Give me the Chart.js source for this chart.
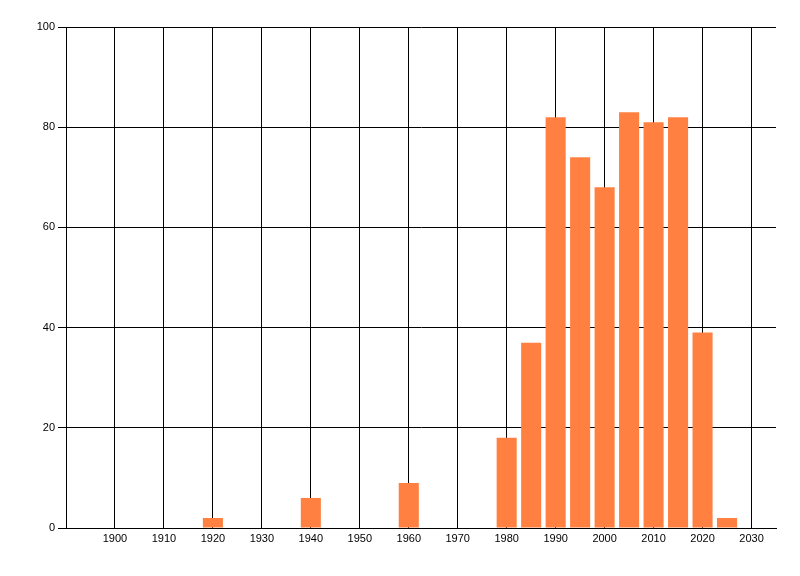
<!DOCTYPE html>
<html>
<head>
<meta charset="utf-8">
<script src="https://cdn.jsdelivr.net/npm/chart.js@4"></script>
<style>
  html, body { margin: 0; padding: 0; background: #fff; }
  canvas { display: block; }
</style>
</head>
<body>
<canvas id="chart" width="800" height="576"></canvas>
<script>
// values
const years = [1920, 1940, 1960, 1980, 1985, 1990, 1995, 2000, 2005, 2010, 2015, 2020, 2025];
const counts = [2, 6, 9, 18, 37, 82, 74, 68, 83, 81, 82, 39, 2];
const xTicks = [1900, 1910, 1920, 1930, 1940, 1950, 1960, 1970, 1980, 1990, 2000, 2010, 2020, 2030];
const yTicks = [0, 20, 40, 60, 80, 100];

const barColor = 'rgb(255,128,64)';
const tickFont = { family: 'Liberation Sans', size: 11 };

const points = years.map((y, i) => ({ x: y, y: counts[i] }));

const ctx = document.getElementById('chart').getContext('2d');

new Chart(ctx, {
  type: 'bar',
  data: {
    datasets: [{
      data: points,
      backgroundColor: barColor,
      borderWidth: 0,
      barPercentage: 0.82,
      categoryPercentage: 1,
    }],
  },
  options: {
    responsive: false,
    animation: false,
    layout: { padding: { top: 27, right: 24, left: 0, bottom: 0 } },
    plugins: {
      legend: { display: false },
      tooltip: { enabled: false },
    },
    scales: {
      x: {
        type: 'linear',
        min: 1890,
        max: 2035,
        offset: false,
        afterBuildTicks: (scale) => {
          scale.ticks = xTicks.map(v => ({ value: v }));
        },
        afterFit: (scale) => { scale.height = 48; },
        grid: {
          color: '#000',
          lineWidth: 1,
          offset: false,
          drawTicks: false,
        },
        border: { color: '#000', width: 1 },
        ticks: {
          color: '#000',
          font: tickFont,
          padding: 4,
          maxRotation: 0,
          autoSkip: false,
          callback: (v) => String(v),
        },
      },
      y: {
        min: 0,
        max: 100,
        afterBuildTicks: (scale) => {
          scale.ticks = yTicks.map(v => ({ value: v }));
        },
        afterFit: (scale) => { scale.width = 66; },
        grid: {
          color: '#000',
          lineWidth: 1,
          drawTicks: true,
          tickLength: 8,
          tickColor: '#000',
        },
        border: { color: '#000', width: 1 },
        ticks: {
          color: '#000',
          font: tickFont,
          padding: 3,
        },
      },
    },
  },
});
</script>
</body>
</html>
